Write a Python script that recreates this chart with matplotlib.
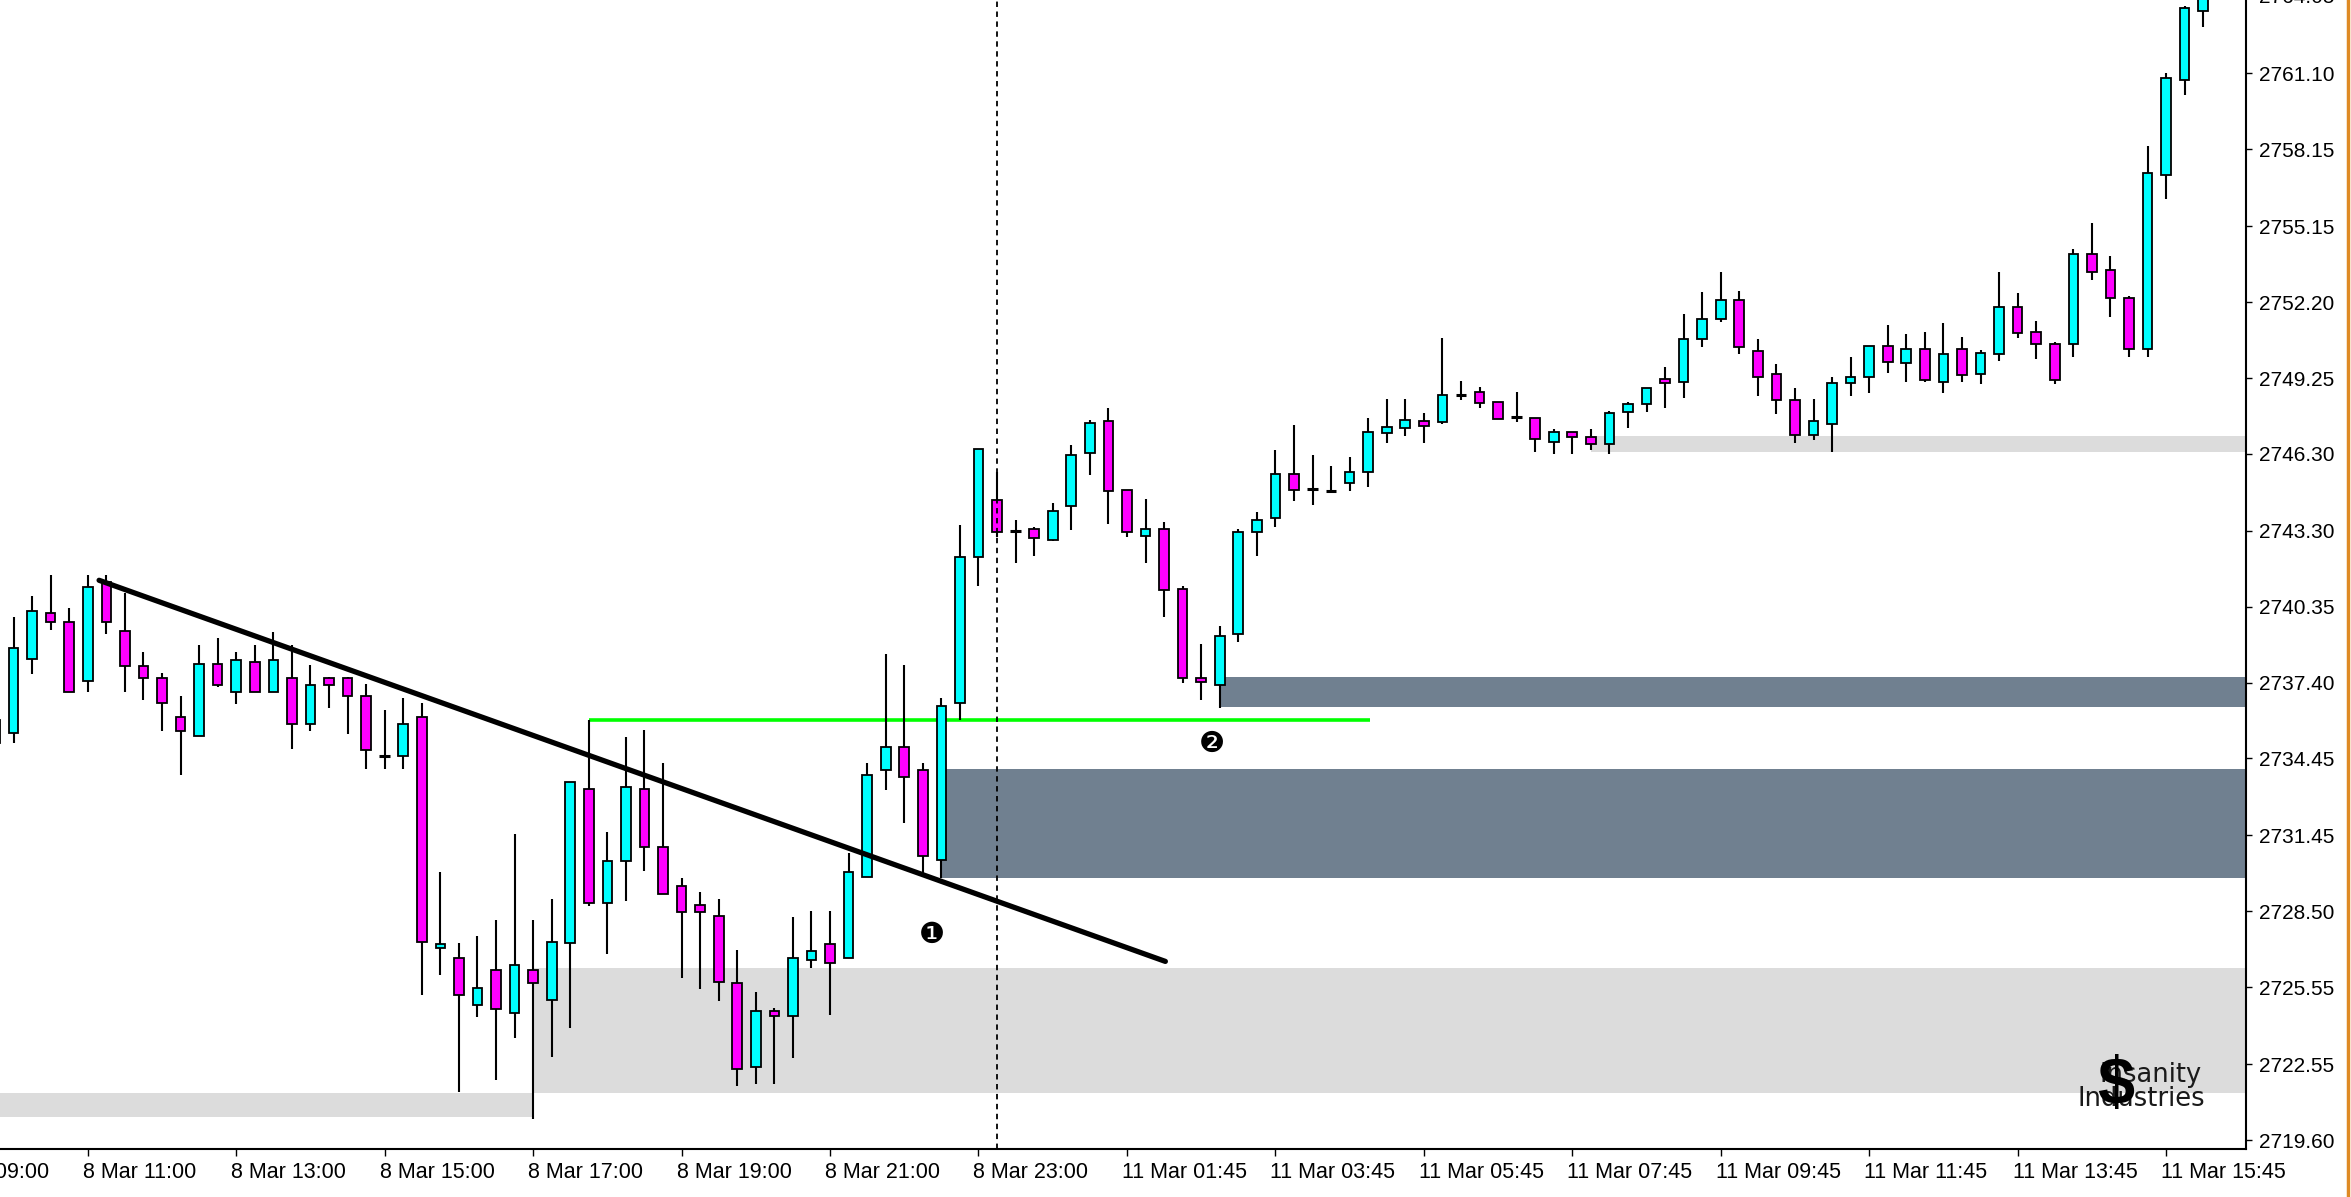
import matplotlib
matplotlib.use('Agg')
import matplotlib.pyplot as plt
import matplotlib.transforms as mtransforms
from matplotlib.lines import Line2D

plt.rcParams['font.family'] = ['Liberation Sans', 'DejaVu Sans']

# M15 bars, index 0 = 8 Mar 11:00
bar_index = list(range(-5, 116))
opens = [2735.95, 2735.43, 2738.30, 2740.12, 2739.75, 2737.48, 2741.31, 2739.39, 2738.04, 2737.59,
         2736.06, 2735.33, 2738.11, 2737.04, 2738.21, 2737.04, 2737.59, 2735.77, 2737.59, 2737.59,
         2736.87, 2734.54, 2734.54, 2736.07, 2727.06, 2726.67, 2724.85, 2726.22, 2724.53, 2726.22,
         2725.05, 2727.28, 2733.26, 2728.83, 2730.47, 2733.26, 2730.99, 2729.48, 2728.74, 2728.32,
         2725.70, 2722.43, 2724.62, 2724.42, 2726.60, 2727.21, 2726.67, 2729.82, 2734.00, 2734.88,
         2733.98, 2730.48, 2736.59, 2742.29, 2744.51, 2743.31, 2743.36, 2742.96, 2744.26, 2746.32,
         2747.57, 2744.89, 2743.10, 2743.36, 2741.04, 2737.59, 2737.32, 2739.30, 2743.26, 2743.82,
         2745.53, 2744.93, 2744.86, 2745.17, 2745.58, 2747.13, 2747.32, 2747.59, 2747.55, 2748.59,
         2748.69, 2748.33, 2747.73, 2747.68, 2746.77, 2747.14, 2746.94, 2746.68, 2747.94, 2748.24,
         2749.21, 2749.11, 2750.76, 2751.55, 2752.29, 2750.30, 2749.41, 2748.40, 2747.03, 2747.47,
         2749.04, 2749.29, 2750.48, 2749.84, 2750.38, 2749.11, 2750.38, 2749.40, 2750.19, 2752.00,
         2751.03, 2750.56, 2750.56, 2754.09, 2753.46, 2752.37, 2750.38, 2757.14, 2760.83, 2763.54,
         2764.30]
highs = [2736.30, 2739.97, 2740.76, 2741.58, 2740.30, 2741.58, 2741.58, 2740.89, 2738.59, 2737.77,
         2736.87, 2738.88, 2739.15, 2738.59, 2738.88, 2739.35, 2738.88, 2738.07, 2737.62, 2737.62,
         2737.34, 2736.35, 2736.80, 2736.62, 2730.04, 2727.25, 2727.54, 2728.16, 2731.49, 2728.16,
         2728.96, 2733.52, 2735.94, 2731.57, 2735.27, 2735.55, 2734.28, 2729.78, 2729.24, 2728.96,
         2726.99, 2725.37, 2724.72, 2728.26, 2728.51, 2728.51, 2730.75, 2734.28, 2738.51, 2738.08,
         2734.26, 2736.80, 2743.54, 2746.50, 2745.60, 2743.72, 2743.47, 2744.38, 2746.63, 2747.61,
         2748.09, 2744.89, 2744.56, 2743.64, 2741.14, 2738.89, 2739.61, 2743.36, 2744.03, 2746.46,
         2747.43, 2746.25, 2745.84, 2746.18, 2747.71, 2748.43, 2748.43, 2747.90, 2750.80, 2749.15,
         2748.89, 2748.33, 2748.69, 2747.68, 2747.25, 2747.14, 2747.25, 2747.97, 2748.33, 2748.85,
         2749.69, 2751.74, 2752.59, 2753.39, 2752.65, 2750.77, 2749.78, 2748.87, 2748.43, 2749.29,
         2750.07, 2750.48, 2751.30, 2750.96, 2751.03, 2751.41, 2750.86, 2750.33, 2753.39, 2752.57,
         2751.48, 2750.66, 2754.28, 2755.28, 2754.01, 2752.45, 2758.26, 2761.13, 2763.74, 2764.50,
         2764.60]
lows = [2734.80, 2735.03, 2737.74, 2739.45, 2737.04, 2737.04, 2739.29, 2737.04, 2736.74, 2735.50,
        2733.79, 2735.33, 2737.22, 2736.58, 2737.04, 2737.04, 2734.83, 2735.50, 2736.40, 2735.38,
        2734.04, 2734.04, 2734.04, 2725.23, 2726.02, 2721.48, 2724.40, 2721.93, 2723.58, 2720.41,
        2722.84, 2723.95, 2728.71, 2726.82, 2728.90, 2730.07, 2729.17, 2725.92, 2725.48, 2725.02,
        2721.70, 2721.78, 2721.78, 2722.78, 2726.28, 2724.46, 2726.67, 2729.82, 2733.22, 2731.95,
        2729.92, 2729.78, 2735.93, 2741.15, 2743.06, 2742.06, 2742.33, 2742.89, 2743.33, 2745.49,
        2743.58, 2743.06, 2742.06, 2739.97, 2737.39, 2736.73, 2736.41, 2738.98, 2742.33, 2743.44,
        2744.47, 2744.31, 2744.79, 2744.86, 2745.02, 2746.74, 2747.01, 2746.74, 2747.46, 2748.40,
        2748.10, 2747.66, 2747.55, 2746.39, 2746.29, 2746.29, 2746.45, 2746.29, 2747.29, 2747.92,
        2748.10, 2748.46, 2750.45, 2751.44, 2750.17, 2748.55, 2747.84, 2746.73, 2746.83, 2746.39,
        2748.55, 2748.65, 2749.44, 2749.10, 2749.10, 2748.65, 2749.10, 2749.00, 2749.92, 2750.81,
        2749.99, 2749.00, 2750.08, 2753.06, 2751.63, 2750.08, 2750.08, 2756.22, 2760.28, 2762.89,
        2764.00]
closes = [2735.06, 2738.75, 2740.20, 2739.75, 2737.04, 2741.10, 2739.75, 2738.04, 2737.59, 2736.59,
          2735.50, 2738.11, 2737.29, 2738.29, 2737.04, 2738.29, 2735.77, 2737.32, 2737.32, 2736.87,
          2734.79, 2734.54, 2735.77, 2727.31, 2727.21, 2725.24, 2725.50, 2724.68, 2726.41, 2725.70,
          2727.32, 2733.52, 2728.81, 2730.47, 2733.35, 2730.99, 2729.17, 2728.48, 2728.48, 2725.76,
          2722.35, 2724.62, 2724.42, 2726.67, 2726.95, 2726.50, 2730.02, 2733.80, 2734.88, 2733.74,
          2730.65, 2736.50, 2742.29, 2746.50, 2743.26, 2743.31, 2743.01, 2744.06, 2746.25, 2747.50,
          2744.86, 2743.26, 2743.36, 2741.00, 2737.59, 2737.43, 2739.21, 2743.26, 2743.71, 2745.53,
          2744.89, 2744.93, 2744.86, 2745.58, 2747.14, 2747.33, 2747.62, 2747.40, 2748.59, 2748.59,
          2748.29, 2747.66, 2747.73, 2746.87, 2747.14, 2746.97, 2746.68, 2747.88, 2748.24, 2748.85,
          2749.04, 2750.77, 2751.56, 2752.29, 2750.47, 2749.30, 2748.40, 2747.03, 2747.58, 2749.04,
          2749.29, 2750.48, 2749.86, 2750.38, 2749.19, 2750.19, 2749.37, 2750.23, 2752.00, 2751.00,
          2750.56, 2749.19, 2754.09, 2753.36, 2752.37, 2750.38, 2757.23, 2760.94, 2763.66, 2764.30,
          2764.50]

y_tick_values = [2719.60, 2722.55, 2725.55, 2728.50, 2731.45, 2734.45, 2737.40, 2740.35,
                 2743.30, 2746.30, 2749.25, 2752.20, 2755.15, 2758.15, 2761.10]
top_tick_value = 2764.05
x_tick_index = [-8, 0, 8, 16, 24, 32, 40, 48, 56, 64, 72, 80, 88, 96, 104, 112]
x_tick_labels = ['8 Mar 09:00', '8 Mar 11:00', '8 Mar 13:00', '8 Mar 15:00', '8 Mar 17:00',
                 '8 Mar 19:00', '8 Mar 21:00', '8 Mar 23:00', '11 Mar 01:45', '11 Mar 03:45',
                 '11 Mar 05:45', '11 Mar 07:45', '11 Mar 09:45', '11 Mar 11:45', '11 Mar 13:45',
                 '11 Mar 15:45']

# rectangles (supply / demand zones)
zone_start = [-10, 24, 46, 61, 81]
zone_end = [24, 130, 130, 130, 130]
zone_low = [2720.51, 2721.42, 2729.80, 2736.45, 2746.39]
zone_high = [2721.42, 2726.28, 2734.02, 2737.62, 2746.99]
zone_color = ['#DCDCDC', '#DCDCDC', '#708090', '#708090', '#DCDCDC']

trend_x = [0.61, 58.07]
trend_y = [2741.38, 2726.55]
green_x = [27, 69.1]
green_y = [2735.94, 2735.94]
separator_x = 49
note_x = [45.5, 60.6]
note_y = [2727.6, 2735.0]
note_text = ['\u2776', '\u2777']

X_LIM = (-4.73, 116.3)
Y_LIM = (2719.25, 2763.96)


def plot_zones(ax):
    for x0, x1, lo, hi, col in zip(zone_start, zone_end, zone_low, zone_high, zone_color):
        ax.fill_between([x0, x1], lo, hi, color=col, lw=0, zorder=1)


def plot_candles(ax):
    ax.vlines(bar_index, lows, highs, color='black', lw=1.5, zorder=3)
    body_x, body_bottom, body_height, body_color = [], [], [], []
    for i, o, c in zip(bar_index, opens, closes):
        if abs(c - o) < 0.01:
            ax.hlines(o, i - 0.28, i + 0.28, color='black', lw=2.2, zorder=4)
            continue
        body_x.append(i)
        body_bottom.append(min(o, c))
        body_height.append(abs(c - o))
        body_color.append('#00FFFF' if c > o else '#FF00FF')
    ax.bar(body_x, body_height, bottom=body_bottom, width=0.52, color=body_color,
           edgecolor='black', linewidth=1.3, zorder=4)


def plot_lines(ax):
    ax.plot(green_x, green_y, color='#00FF00', lw=2.6, zorder=2, solid_capstyle='butt')
    ax.plot(trend_x, trend_y, color='black', lw=3.8, zorder=5, solid_capstyle='round')
    ax.axvline(separator_x, color='black', lw=1.3, ls=(0, (3, 2.5)), zorder=5)
    for x, y, t in zip(note_x, note_y, note_text):
        ax.text(x, y, t, fontsize=21, ha='center', va='center', color='black',
                family=['DejaVu Sans'], zorder=6)


def style_axes(ax):
    ax.set_xlim(*X_LIM)
    ax.set_ylim(*Y_LIM)
    for side in ['left', 'top']:
        ax.spines[side].set_visible(False)
    for side in ['right', 'bottom']:
        ax.spines[side].set_linewidth(1.5)
    ax.yaxis.tick_right()
    ax.set_yticks(y_tick_values)
    ax.set_yticklabels(['%.2f' % v for v in y_tick_values])
    ax.tick_params(axis='y', direction='out', length=4.3, width=1, pad=5, labelsize=15)
    ax.text(1.0057, top_tick_value, '%.2f' % top_tick_value, fontsize=15, ha='left', va='center',
            transform=mtransforms.blended_transform_factory(ax.transAxes, ax.transData), clip_on=False)

    visible = [k for k in x_tick_index if X_LIM[0] <= k <= X_LIM[1]]
    ax.set_xticks(visible)
    ax.set_xticklabels([])
    ax.tick_params(axis='x', direction='out', length=5, width=1)
    trans = mtransforms.blended_transform_factory(ax.transData, ax.transAxes)
    for k, lab in zip(x_tick_index, x_tick_labels):
        ax.text(k - 0.27, -0.0255, lab, fontsize=15.5, ha='left', va='baseline',
                transform=trans, clip_on=False)


def plot_watermark(fig):
    fig.text(0.9366, 0.0961, 'Insanity', fontsize=18.5, ha='right', va='baseline',
             family=['DejaVu Sans'], color='#1a1a1a')
    fig.text(0.9380, 0.0760, 'Industries', fontsize=18.5, ha='right', va='baseline',
             family=['DejaVu Sans'], color='#1a1a1a')
    fig.text(0.9000, 0.0915, '$', fontsize=48, ha='center', va='center', weight='bold',
             color='black')
    fig.add_artist(Line2D([0.9987, 0.9987], [0, 1], color='#DE8A24', lw=2.5,
                          transform=fig.transFigure))


fig = plt.figure(figsize=(23.51, 11.97), dpi=100)
ax = fig.add_axes([0.0, 0.0401, 0.9553, 0.9599])
plot_zones(ax)
plot_candles(ax)
plot_lines(ax)
style_axes(ax)
plot_watermark(fig)
fig.savefig('out.png', dpi=100, facecolor='white')
